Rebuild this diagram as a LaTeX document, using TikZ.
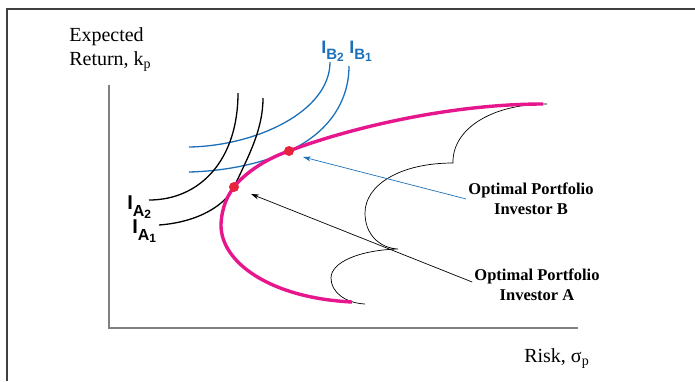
\documentclass[tikz,border=0pt]{standalone}
\usepackage{fontspec}
\setmainfont{Liberation Serif}
\newfontfamily\labfont{Liberation Sans}
\usetikzlibrary{arrows.meta,positioning}
\definecolor{frontier}{HTML}{E6168C}
\definecolor{dotred}{HTML}{E8243C}
\definecolor{indblue}{HTML}{1B70B8}
\definecolor{axisgray}{HTML}{808080}
% indifference curve label: letter, investor, index, size, drop
\newcommand{\indlab}[5]{#1{\fontsize{#4}{#4}\selectfont\raisebox{-#5}{#2\raisebox{-2pt}{\fontsize{12}{12}\selectfont #3}}}}

\begin{document}
\begin{tikzpicture}[x=1pt, y=-1pt, semithick]
        \tikzstyle{axis}=[draw=axisgray, line width=1.4pt]
        \tikzstyle{frontline}=[draw=frontier, line width=3.4pt]
        \tikzstyle{indiffA}=[draw=black, line width=1.3pt]
        \tikzstyle{indiffB}=[draw=indblue, line width=1.3pt]
        \tikzstyle{hull}=[draw=black, line width=0.7pt]
        \tikzstyle{optdot}=[circle, fill=dotred, minimum size=10pt, inner sep=0pt]
        \tikzstyle{callout}=[font=\fontsize{16.5}{20}\selectfont\bfseries, align=center, inner sep=0pt]
        \tikzstyle{axislabel}=[font=\fontsize{20}{24}\selectfont, inner sep=0pt]
        \tikzstyle{labA}=[font=\labfont\bfseries\fontsize{20}{22}\selectfont, inner sep=0pt, anchor=base west]
        \tikzstyle{labB}=[font=\labfont\bfseries\fontsize{18}{20}\selectfont, text=indblue, inner sep=0pt, anchor=base west]
        \tikzstyle{pointer}=[-{Stealth[length=8pt, width=5pt]}, line width=0.7pt]
        \useasboundingbox (0,0) rectangle (695,381);
        % frame
        \draw[draw=black!75, line width=2pt] (7,381) -- (7,9) -- (695,9);
        % axes
        \coordinate (origin) at (109,328);
        \draw[axis] (109,85) -- (origin) -- (578,328);
        \node[axislabel, anchor=north west, align=left] (ylab) at (69,27) {Expected\\Return, k\textsubscript{p}};
        \node[axislabel, anchor=base west] (xlab) at (524,362) {Risk, σ\textsubscript{p}};
        % feasible set
        \draw[hull] (547,104) .. controls (490,104) and (452,130) .. (453,163)
                    .. controls (400,163) and (365,185) .. (365,213)
                    .. controls (365,235) and (380,248) .. (398,249)
                    .. controls (360,250) and (331,262) .. (331,278)
                    .. controls (331,292) and (345,303) .. (365,304);
        % optimal points
        \coordinate (pA) at (234,187);
        \coordinate (pB) at (289,151);
        % indifference curves B
        \draw[indiffB] (189,147) .. controls (255,146) and (330,112) .. (330,62);
        \draw[indiffB] (189,172) .. controls (230,171) and (265,162) .. (pB)
                       .. controls (330,132) and (349,100) .. (349,66);
        % indifference curves A
        \draw[indiffA] (149,200) .. controls (200,200) and (238,160) .. (238,93);
        \draw[indiffA] (159,225) .. controls (200,222) and (226,204) .. (pA)
                       .. controls (248,157) and (263,130) .. (263,98);
        % efficient frontier
        \draw[frontline] (352,302) .. controls (270,298) and (220,262) .. (221,224)
                         .. controls (222,206) and (228,195) .. (pA)
                         .. controls (244,174) and (265,159) .. (pB)
                         .. controls (335,133) and (440,104) .. (543,104);
        \node[optdot] (optA) at (pA) {};
        \node[optdot] (optB) at (pB) {};
        % labels
        \node[labB] (ib2) at (321,53) {\indlab{I}{B}{2}{15}{6pt}};
        \node[labB] (ib1) at (349,53) {\indlab{I}{B}{1}{15}{6pt}};
        \node[labA] (ia2) at (127,209) {\indlab{I}{A}{2}{16}{7pt}};
        \node[labA] (ia1) at (132,233) {\indlab{I}{A}{1}{16}{7pt}};
        \node[callout] (investB) at (531,199) {Optimal Portfolio\\Investor B};
        \node[callout] (investA) at (537,285) {Optimal Portfolio\\Investor A};
        \coordinate (tipB) at (303,157);
        \coordinate (tipA) at (251,194);
        \draw[pointer, indblue] ([xshift=-2pt]investB.west) -- (tipB);
        \draw[pointer] ([xshift=-2pt, yshift=3pt]investA.west) -- (tipA);
\end{tikzpicture}
\end{document}
